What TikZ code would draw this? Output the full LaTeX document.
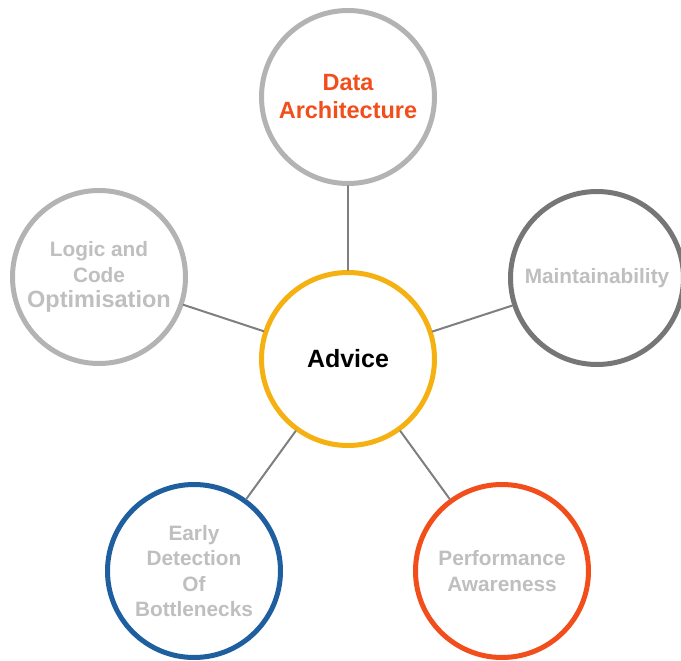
\documentclass[tikz,border=0pt]{standalone}
\usepackage{fontspec}
\setmainfont{Liberation Sans}
\definecolor{ringgray}{HTML}{B3B3B3}
\definecolor{ringdark}{HTML}{767676}
\definecolor{ringgold}{HTML}{F5B111}
\definecolor{ringblue}{HTML}{1F5FA0}
\definecolor{ringred}{HTML}{F24E1C}
\definecolor{txtgray}{HTML}{BFBFBF}
\definecolor{linkgray}{HTML}{7F7F7F}
\begin{document}
\begin{tikzpicture}[x=1pt, y=-1pt, line join=round, line cap=round,
	ring/.style={circle, draw, line width=5pt, fill=white, inner sep=0pt, minimum size=173pt, align=center, font=\bfseries\fontsize{20.8}{25.5}\selectfont, text=txtgray},
	link/.style={draw=linkgray, line width=2pt}]
		\useasboundingbox (0,0) rectangle (681,661);
		\node[ring, draw=ringgold, text=black, font=\bfseries\fontsize{25}{30}\selectfont] (advice) at (348,359) {Advice};
		\node[ring, draw=ringgray, text=ringred, font=\bfseries\fontsize{23.5}{28}\selectfont] (data) at (348,97) {Data\\Architecture};
		\node[ring, draw=ringgray] (logic) at (99,277) {Logic and\\Code\\{\fontsize{23.5}{28}\selectfont Optimisation}};
		\node[ring, draw=ringdark] (maint) at (597,278) {Maintainability};
		\node[ring, draw=ringblue] (early) at (194,571) {Early\\Detection\\Of\\Bottlenecks};
		\node[ring, draw=ringred] (perf) at (502,571) {Performance\\Awareness};
		\foreach \n in{data,logic,maint,early,perf} \draw[link] (advice)--(\n);
		\end{tikzpicture}
\end{document}
